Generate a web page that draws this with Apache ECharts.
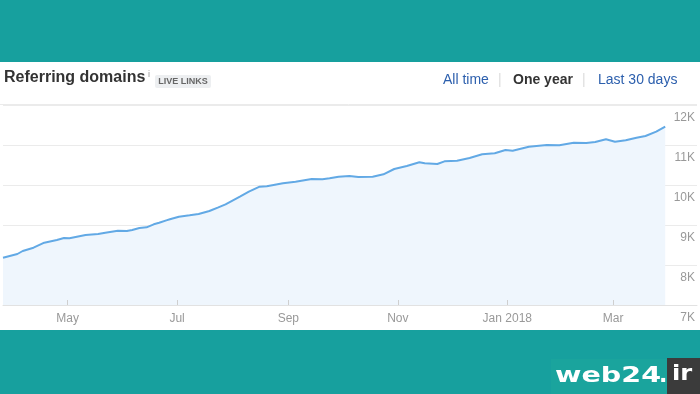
<!DOCTYPE html>
<html><head><meta charset="utf-8">
<script src="https://cdn.jsdelivr.net/npm/echarts@6/dist/echarts.min.js"></script>
<style>html,body{margin:0;padding:0;background:#fff}#c{width:700px;height:394px}</style>
</head><body><div id="c"></div>
<script>
const sampleDates = [
  '2017-03-26','2017-04-03','2017-04-06','2017-04-12','2017-04-18','2017-04-25','2017-04-29',
  '2017-05-02','2017-05-11','2017-05-18','2017-05-22','2017-05-29',
  '2017-06-03','2017-06-06','2017-06-10','2017-06-14','2017-06-18','2017-06-21','2017-06-25','2017-06-27',
  '2017-07-02','2017-07-08','2017-07-13','2017-07-19','2017-07-24','2017-07-28',
  '2017-08-05','2017-08-10','2017-08-16','2017-08-20','2017-08-29',
  '2017-09-05','2017-09-14','2017-09-20','2017-09-24','2017-09-29',
  '2017-10-05','2017-10-10','2017-10-18','2017-10-24','2017-10-30',
  '2017-11-06','2017-11-13','2017-11-16','2017-11-23','2017-11-27',
  '2017-12-04','2017-12-11','2017-12-18','2017-12-25','2017-12-31',
  '2018-01-04','2018-01-13','2018-01-23','2018-01-30',
  '2018-02-07','2018-02-14','2018-02-19','2018-02-25',
  '2018-03-02','2018-03-08','2018-03-14','2018-03-19','2018-03-25','2018-03-30'
];
const sampleValues = [
  8180,8275,8350,8433,8558,8625,8675,
  8667,8750,8775,8808,8858,
  8850,8875,8925,8942,9017,9055,9115,9142,
  9208,9242,9275,9350,9442,9517,
  9708,9833,9958,9967,10042,
  10083,10150,10142,10167,10208,
  10225,10200,10208,10267,10400,
  10475,10567,10542,10525,10592,
  10608,10675,10767,10792,10875,
  10858,10958,11000,10992,
  11058,11050,11075,11142,
  11083,11117,11183,11225,11333,11460
];
const tickDates = ['2017-05-01','2017-07-01','2017-09-01','2017-11-01','2018-01-01','2018-03-01'];
const tickLabels = ['May','Jul','Sep','Nov','Jan 2018','Mar'];
const yMin = 7000, yMax = 12000, yStep = 1000;

function ts(s){ const p = s.split('-').map(Number); return Date.UTC(p[0], p[1]-1, p[2]); }
const tickTs = tickDates.map(ts);
const seriesData = sampleDates.map((d,i)=>[ts(d), sampleValues[i]]);
const xMin = ts('2017-03-26');
const xMax = ts('2018-04-16') + 17*3600*1000;

const FONT = '"Liberation Sans", Arial, sans-serif';
const chart = echarts.init(document.getElementById('c'), null, {renderer:'canvas'});
chart.setOption({
  backgroundColor: '#ffffff',
  animation: false,
  grid: {left: 3, right: 3, top: 105, bottom: 89},
  xAxis: {
    type: 'value', min: xMin, max: xMax, scale: true, z: 5,
    axisLine: {show: true, lineStyle: {color: '#e2e2e2', width: 1}},
    axisTick: {show: true, inside: true, length: 5, customValues: tickTs, lineStyle: {color: '#cfcfcf'}},
    axisLabel: {
      customValues: tickTs, margin: 8, color: '#999', fontSize: 12, fontFamily: FONT,
      formatter: function(v){ const i = tickTs.indexOf(v); return i >= 0 ? tickLabels[i] : ''; }
    },
    splitLine: {show: false}
  },
  yAxis: {
    type: 'value', position: 'right', min: yMin, max: yMax, interval: yStep,
    axisLine: {show: false}, axisTick: {show: false},
    axisLabel: {inside: true, margin: 2, color: '#999', fontSize: 12, fontFamily: FONT,
      verticalAlign: 'top', padding: [7,0,0,0],
      formatter: function(v){ return (v/1000) + 'K'; }},
    splitLine: {show: true, lineStyle: {color: '#ebebeb', width: 1}}
  },
  series: [{
    type: 'line', data: seriesData, symbol: 'none', smooth: false,
    lineStyle: {color: '#62a9e5', width: 2},
    areaStyle: {color: '#eff6fd', opacity: 1},
    z: 2
  }],
  graphic: [
    {type:'rect', shape:{x:0,y:0,width:700,height:62}, style:{fill:'#17a09e'}, silent:true},
    {type:'rect', shape:{x:0,y:330,width:700,height:64}, style:{fill:'#17a09e'}, silent:true},
    {type:'line', shape:{x1:0,y1:104.5,x2:697,y2:104.5}, style:{stroke:'#ebebeb', lineWidth:1}, silent:true},
    {type:'text', x:4, y:78, style:{text:'Referring domains', fill:'#333', font:'bold 16px '+FONT, verticalAlign:'middle'}},
    {type:'text', x:148, y:75, style:{text:'i', fill:'#999', font:'9px '+FONT, verticalAlign:'middle'}},
    {type:'rect', shape:{x:155,y:75,width:56,height:13,r:2}, style:{fill:'#edeff1'}},
    {type:'text', x:183, y:81.5, style:{text:'LIVE LINKS', fill:'#666', font:'bold 9px '+FONT, align:'center', verticalAlign:'middle'}},
    {type:'text', x:443, y:80, style:{text:'All time', fill:'#2c5fad', font:'14px '+FONT, verticalAlign:'middle'}},
    {type:'rect', shape:{x:499,y:73,width:1.5,height:14}, style:{fill:'#e3e3e3'}},
    {type:'text', x:513, y:80, style:{text:'One year', fill:'#333', font:'bold 14px '+FONT, verticalAlign:'middle'}},
    {type:'rect', shape:{x:583,y:73,width:1.5,height:14}, style:{fill:'#e3e3e3'}},
    {type:'text', x:598, y:80, style:{text:'Last 30 days', fill:'#2c5fad', font:'14px '+FONT, verticalAlign:'middle'}},
    {type:'rect', shape:{x:551,y:359,width:116,height:35}, style:{fill:'#1aa49d'}},
    {type:'rect', shape:{x:667,y:358,width:33,height:36}, style:{fill:'#3b3b3b'}},
    {type:'text', x:555, y:376, scaleX:1.3, style:{text:'web24', fill:'#fff', font:'bold 22px "DejaVu Sans", sans-serif', verticalAlign:'middle'}},
    {type:'text', x:659, y:376, style:{text:'.', fill:'#fff', font:'bold 22px "DejaVu Sans", sans-serif', verticalAlign:'middle'}},
    {type:'text', x:672, y:374, scaleX:1.1, style:{text:'ir', fill:'#fff', font:'bold 22px "DejaVu Sans", sans-serif', verticalAlign:'middle'}}
  ]
});
</script>
</body></html>
